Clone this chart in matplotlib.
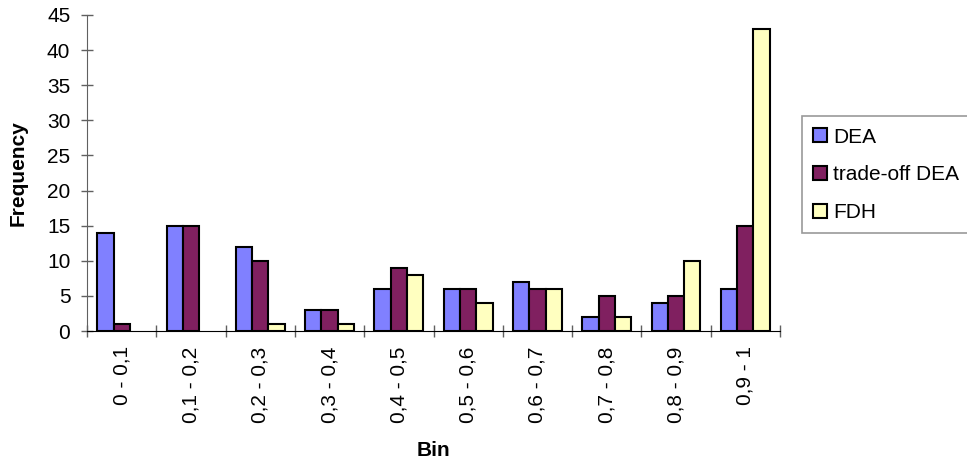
import matplotlib
matplotlib.use('Agg')
import matplotlib.pyplot as plt
import numpy as np

plt.rcParams['font.family'] = ['Liberation Sans', 'DejaVu Sans']

bins = ['0 - 0,1', '0,1 - 0,2', '0,2 - 0,3', '0,3 - 0,4', '0,4 - 0,5',
        '0,5 - 0,6', '0,6 - 0,7', '0,7 - 0,8', '0,8 - 0,9', '0,9 - 1']
dea = [14, 15, 12, 3, 6, 6, 7, 2, 4, 6]
tradeoff_dea = [1, 15, 10, 3, 9, 6, 6, 5, 5, 15]
fdh = [0, 0, 1, 1, 8, 4, 6, 2, 10, 43]

series = [('DEA', dea, '#8080FF'),
          ('trade-off DEA', tradeoff_dea, '#802060'),
          ('FDH', fdh, '#FFFFC0')]

fig = plt.figure(figsize=(9.67, 4.68), dpi=100)
ax = fig.add_axes([0.09, 0.2927, 0.7166, 0.6753])

x = np.arange(len(bins))
w = 0.235
for i, (name, vals, col) in enumerate(series):
    vals = np.array(vals)
    mask = vals > 0  # empty bins show no bar at all
    ax.bar(x[mask] + (i - 1) * w, vals[mask], width=w, color=col,
           edgecolor='black', linewidth=1.5, label=name, zorder=3)

ax.set_xlim(-0.5, len(bins) - 0.5)
ax.set_ylim(0, 45)
ax.set_yticks(range(0, 46, 5))
ax.tick_params(axis='y', direction='inout', length=8, width=1,
               labelsize=15, color='#606060', labelcolor='black', pad=8)

ax.set_xticks(x)
ax.set_xticklabels(bins, rotation=90, fontsize=15)
ax.tick_params(axis='x', length=0, pad=11)
ax.set_xticks(np.arange(-0.5, len(bins)), minor=True)
ax.tick_params(axis='x', which='minor', direction='inout', length=9,
               color='#606060', width=1)

for s in ['top', 'right']:
    ax.spines[s].set_visible(False)
ax.spines['left'].set_color('#606060')
ax.spines['bottom'].set_color('black')

ax.set_ylabel('Frequency', fontsize=15, fontweight='bold', va='center')
ax.yaxis.set_label_coords(-0.1, 0.5)
ax.set_xlabel('Bin', fontsize=15, fontweight='bold', va='center')
ax.xaxis.set_label_coords(0.5, -0.377)

leg = fig.legend(loc='upper left', bbox_to_anchor=(0.829, 0.752),
                 fontsize=15, frameon=True, fancybox=False,
                 handlelength=0.65, handleheight=0.65, handletextpad=0.3,
                 labelspacing=0.9, borderpad=0.55, borderaxespad=0)
leg.get_frame().set_edgecolor('#808080')
leg.get_frame().set_linewidth(1.2)

fig.savefig('out.png', dpi=100)
